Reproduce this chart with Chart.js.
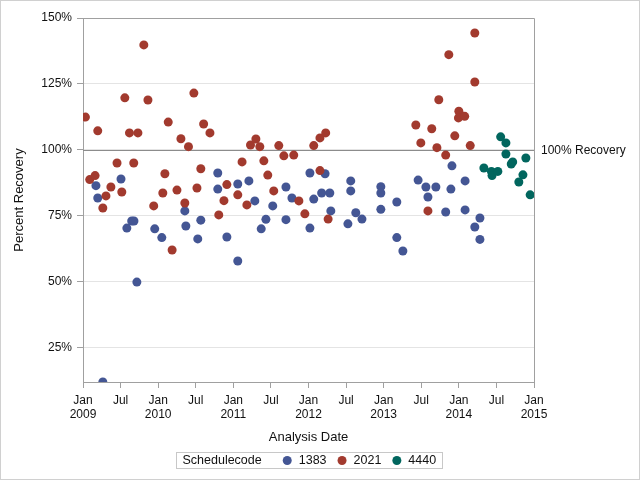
<!DOCTYPE html>
<html>
<head>
<meta charset="utf-8">
<script src="https://cdn.jsdelivr.net/npm/chart.js@4.4.1/dist/chart.umd.min.js"></script>
<style>
  html, body { margin: 0; padding: 0; background: #fff; }
  #wrap { width: 640px; height: 480px; }
</style>
</head>
<body>
<div id="wrap"><canvas id="scatterChart" width="640" height="480"></canvas></div>
<script>
//序列名称和颜色
var seriesNames = ["1383", "2021", "4440"];
var seriesColors = ["#445694", "#A23A2E", "#01665E"];

//Schedulecode 1383
var dates1383 = ["2009-03-03", "2009-03-12", "2009-04-06", "2009-07-03", "2009-08-01", "2009-08-25", "2009-09-05",
    "2009-09-19", "2009-12-15", "2010-01-19", "2010-05-09", "2010-05-14", "2010-07-11", "2010-07-26",
    "2010-10-17", "2010-10-17", "2010-11-30", "2011-01-23", "2011-01-23", "2011-03-16", "2011-04-14",
    "2011-05-15", "2011-06-07", "2011-07-10", "2011-09-13", "2011-09-13", "2011-10-12", "2012-01-08",
    "2012-01-08", "2012-01-27", "2012-03-04", "2012-03-21", "2012-04-13", "2012-04-18", "2012-07-10",
    "2012-07-24", "2012-07-24", "2012-08-18", "2012-09-17", "2012-12-18", "2012-12-18", "2012-12-18",
    "2013-03-04", "2013-03-04", "2013-04-03", "2013-06-16", "2013-07-24", "2013-08-03", "2013-09-11",
    "2013-10-29", "2013-11-23", "2013-11-28", "2014-02-01", "2014-02-01", "2014-03-18", "2014-04-12",
    "2014-04-12"];
var values1383 = [86.4, 81.7, 11.9, 88.9, 70.3, 73.0, 73.0,
    49.8, 70.0, 66.7, 76.8, 71.1, 66.2, 73.3,
    91.2, 85.1, 66.9, 87.0, 57.8, 88.2, 80.6,
    70.0, 73.6, 78.7, 85.9, 73.5, 81.7, 91.2,
    70.3, 81.3, 83.6, 90.9, 83.6, 76.8, 71.9,
    88.2, 84.4, 76.1, 73.7, 86.0, 83.6, 77.4,
    80.2, 66.7, 61.6, 88.5, 85.9, 82.1, 85.9,
    76.4, 85.1, 93.9, 88.2, 77.2, 70.7, 74.1,
    66.0];

//Schedulecode 2021
var dates2021 = ["2009-01-13", "2009-02-03", "2009-02-27", "2009-03-12", "2009-04-06", "2009-04-21", "2009-05-15",
    "2009-06-14", "2009-07-07", "2009-07-22", "2009-08-14", "2009-09-04", "2009-09-24", "2009-10-23",
    "2009-11-12", "2009-12-10", "2010-01-24", "2010-02-03", "2010-02-18", "2010-03-08", "2010-04-01",
    "2010-04-20", "2010-05-09", "2010-05-27", "2010-06-22", "2010-07-07", "2010-07-26", "2010-08-09",
    "2010-09-09", "2010-10-22", "2010-11-16", "2010-11-30", "2011-01-23", "2011-02-12", "2011-03-06",
    "2011-03-24", "2011-04-19", "2011-05-08", "2011-05-28", "2011-06-16", "2011-07-15", "2011-08-09",
    "2011-09-03", "2011-10-21", "2011-11-15", "2011-12-14", "2012-01-27", "2012-02-25", "2012-02-25",
    "2012-03-24", "2012-04-05", "2013-06-05", "2013-06-29", "2013-08-03", "2013-08-22", "2013-09-16",
    "2013-09-25", "2013-10-29", "2013-11-13", "2013-12-12", "2014-01-01", "2013-12-30", "2014-01-30",
    "2014-02-24", "2014-03-18", "2014-03-18"];
var values2021 = [112.4, 88.7, 90.2, 107.2, 77.9, 82.5, 85.9,
    95.0, 84.0, 119.7, 106.4, 95.0, 106.4, 139.8,
    118.9, 78.7, 83.6, 90.9, 110.5, 62.0, 84.7,
    104.2, 79.8, 101.2, 121.5, 85.5, 92.8, 109.8,
    106.4, 75.3, 80.7, 86.8, 82.9, 95.4, 79.1,
    101.8, 104.1, 101.2, 95.8, 90.4, 84.4, 101.6,
    97.7, 98.0, 80.6, 75.7, 101.6, 104.5, 92.1,
    106.4, 73.7, 109.4, 102.6, 76.8, 108.0, 100.8,
    119.0, 98.0, 136.1, 105.3, 114.6, 112.1, 112.7,
    101.6, 144.3, 125.7];

//Schedulecode 4440
var dates4440 = ["2014-05-01", "2014-06-07", "2014-06-10", "2014-07-08", "2014-07-22", "2014-08-17", "2014-08-17",
    "2014-09-12", "2014-09-19", "2014-10-19", "2014-11-08", "2014-11-22", "2014-12-13"];
var values4440 = [93.1, 91.8, 90.2, 91.8, 104.9, 102.6, 98.4,
    94.6, 95.4, 87.8, 90.5, 96.9, 82.9];

//坐标轴刻度
var yTickValues = [25, 50, 75, 100, 125, 150];
var xTickMonths = ["Jan", "Jul"];
var xTickYears = [2009, 2010, 2011, 2012, 2013, 2014, 2015];
var yMin = 11.9;
var yMax = 150;

//参考线
var refValue = 100;
var refLabel = "100% Recovery";

var fontFamily = '"Liberation Sans", Arial, sans-serif';
var textColor = "#111";
var axisColor = "#a0a0a0";

//日期转换为距 2009 年 1 月的月数
function toMonths(dateStr) {
    var p = dateStr.split("-");
    var y = parseInt(p[0], 10), m = parseInt(p[1], 10), d = parseInt(p[2], 10);
    var days = new Date(Date.UTC(y, m, 0)).getUTCDate();
    return (y - xTickYears[0]) * 12 + (m - 1) + (d - 1) / days;
}

function toPoints(dates, values) {
    var pts = [];
    for (var i = 0; i < dates.length; i++) {
        pts.push({x: toMonths(dates[i]), y: values[i]});
    }
    return pts;
}

//横轴刻度：每半年一个
var xTicks = [];
for (var i = 0; i < xTickYears.length; i++) {
    var base = (xTickYears[i] - xTickYears[0]) * 12;
    xTicks.push({value: base, label: [xTickMonths[0], String(xTickYears[i])]});
    if (i < xTickYears.length - 1) {
        xTicks.push({value: base + 6, label: xTickMonths[1]});
    }
}

function xLabel(v) {
    for (var i = 0; i < xTicks.length; i++) {
        if (xTicks[i].value === v) return xTicks[i].label;
    }
    return "";
}

//背景、边框
var framePlugin = {
    id: "frame",
    beforeDraw: function (chart) {
        var ctx = chart.ctx;
        ctx.save();
        ctx.fillStyle = "#fff";
        ctx.fillRect(0, 0, chart.width, chart.height);
        ctx.restore();
    },
    beforeDatasetsDraw: function (chart) {
        var ctx = chart.ctx, a = chart.chartArea;
        var yRef = Math.round(chart.scales.y.getPixelForValue(refValue)) + 0.5;
        ctx.save();
        ctx.lineWidth = 1;
        ctx.strokeStyle = axisColor;
        ctx.beginPath();
        ctx.moveTo(Math.round(a.left), Math.round(a.top) + 0.5);
        ctx.lineTo(Math.round(a.right) + 0.5, Math.round(a.top) + 0.5);
        ctx.lineTo(Math.round(a.right) + 0.5, Math.round(a.bottom));
        ctx.stroke();
        //100% 参考线
        ctx.strokeStyle = "#8c8c8c";
        ctx.beginPath();
        ctx.moveTo(a.left, yRef);
        ctx.lineTo(a.right, yRef);
        ctx.stroke();
        ctx.restore();
    },
    afterDraw: function (chart) {
        var ctx = chart.ctx, a = chart.chartArea;
        ctx.save();
        //参考线标签
        ctx.font = "12px " + fontFamily;
        ctx.fillStyle = textColor;
        ctx.textAlign = "left";
        ctx.textBaseline = "middle";
        ctx.fillText(refLabel, a.right + 7, chart.scales.y.getPixelForValue(refValue) + 1);

        //图例
        ctx.font = "12.5px " + fontFamily;
        var r = 4.5, padL = 6, padR = 6, titleGap = 21, markGap = 7, itemGap = 11;
        var title = "Schedulecode";
        var w = padL + ctx.measureText(title).width + titleGap;
        var widths = [];
        for (var i = 0; i < chart.data.datasets.length; i++) {
            widths.push(ctx.measureText(chart.data.datasets[i].label).width);
            w += 2 * r + markGap + widths[i] + (i < chart.data.datasets.length - 1 ? itemGap : 0);
        }
        w += padR;
        var boxH = 16;
        var x0 = Math.round((a.left + a.right) / 2 - w / 2) + 0.5;
        var y0 = 452.5;
        ctx.strokeStyle = "#c8c8c8";
        ctx.lineWidth = 1;
        ctx.strokeRect(x0, y0, Math.round(w), boxH);
        var cy = y0 + boxH / 2;
        var x = x0 + padL;
        ctx.fillStyle = textColor;
        ctx.fillText(title, x, cy + 0.5);
        x += ctx.measureText(title).width + titleGap;
        for (var j = 0; j < chart.data.datasets.length; j++) {
            var ds = chart.data.datasets[j];
            ctx.fillStyle = ds.backgroundColor;
            ctx.beginPath();
            ctx.arc(x + r, cy, r, 0, Math.PI * 2);
            ctx.fill();
            x += 2 * r + markGap;
            ctx.fillStyle = textColor;
            ctx.fillText(ds.label, x, cy + 0.5);
            x += widths[j] + itemGap;
        }

        //外框
        ctx.strokeStyle = "#d0d0d0";
        ctx.strokeRect(0.5, 0.5, chart.width - 1, chart.height - 1);
        ctx.restore();
    }
};

function makeDataset(idx, dates, values) {
    return {
        label: seriesNames[idx],
        data: toPoints(dates, values),
        backgroundColor: seriesColors[idx],
        borderColor: seriesColors[idx],
        pointRadius: 4.5,
        pointHoverRadius: 4.5,
        borderWidth: 0,
        pointBorderWidth: 0,
        clip: 0,
        order: 3 - idx
    };
}

//初始化图表
function initChart() {
    Chart.defaults.font.family = fontFamily;
    Chart.defaults.color = textColor;
    var ctx = document.getElementById("scatterChart").getContext("2d");
    new Chart(ctx, {
        type: "scatter",
        data: {
            datasets: [
                makeDataset(0, dates1383, values1383),
                makeDataset(1, dates2021, values2021),
                makeDataset(2, dates4440, values4440)
            ]
        },
        options: {
            responsive: false,
            animation: false,
            events: [],
            layout: {padding: {left: 8, right: 106, top: 18, bottom: 31}},
            plugins: {
                legend: {display: false},
                tooltip: {enabled: false}
            },
            scales: {
                x: {
                    type: "linear",
                    min: 0,
                    max: (xTickYears[xTickYears.length - 1] - xTickYears[0]) * 12,
                    afterBuildTicks: function (axis) {
                        axis.ticks = xTicks.map(function (t) { return {value: t.value}; });
                    },
                    afterFit: function (axis) { axis.height = 67; },
                    ticks: {
                        font: {size: 12},
                        color: textColor,
                        padding: 5,
                        maxRotation: 0,
                        autoSkip: false,
                        callback: function (v) { return xLabel(v); }
                    },
                    grid: {display: true, drawOnChartArea: false, drawTicks: true, tickLength: 6, tickColor: axisColor},
                    border: {display: true, color: axisColor},
                    title: {display: true, text: "Analysis Date", font: {size: 13}, color: textColor, padding: {top: 4, bottom: 4}}
                },
                y: {
                    type: "linear",
                    min: yMin,
                    max: yMax,
                    afterBuildTicks: function (axis) {
                        axis.ticks = yTickValues.map(function (v) { return {value: v}; });
                    },
                    afterFit: function (axis) { axis.width = 75; },
                    ticks: {
                        font: {size: 12},
                        color: textColor,
                        padding: 5,
                        callback: function (v) { return v + "%"; }
                    },
                    grid: {color: "#e4e4e4", tickColor: axisColor, tickLength: 6},
                    border: {display: true, color: axisColor},
                    title: {display: true, text: "Percent Recovery", font: {size: 13}, color: textColor, padding: {top: 4, bottom: 4}}
                }
            }
        },
        plugins: [framePlugin]
    });
}

initChart();
</script>
</body>
</html>
